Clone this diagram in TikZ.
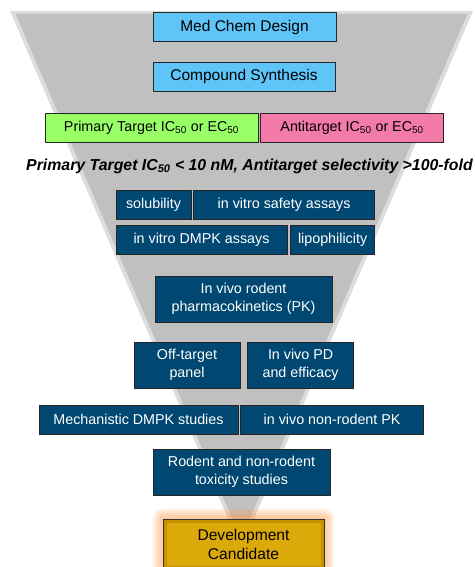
\documentclass[tikz,border=0pt]{standalone}
\usepackage{fontspec}
\setmainfont{Liberation Sans}
\usepackage{xcolor}
\usepackage{tikz}
\usetikzlibrary{positioning,calc}
\definecolor{FunGray}{HTML}{C0C0C0}
\definecolor{FunEdge}{HTML}{DCDCDC}
\definecolor{SkyBox}{HTML}{5FC4F8}
\definecolor{LimeBox}{HTML}{99FF66}
\definecolor{RoseBox}{HTML}{F47BA8}
\definecolor{NavyBox}{HTML}{004872}
\definecolor{GoldBox}{HTML}{DBA90A}
\definecolor{GoldRim}{HTML}{C49400}
\definecolor{GlowOrange}{HTML}{FF9C45}
\pgfdeclarelayer{back}
\pgfdeclarelayer{glow}
\pgfsetlayers{back,glow,main}

\begin{document}
\begin{tikzpicture}[x=1pt,y=-1pt,
  node distance=2pt,
  box/.style={draw=black!85,line width=0.6pt,inner sep=0pt,align=center,
              font=\fontsize{14.3}{18}\selectfont,minimum height=29pt},
  skybox/.style={box,fill=SkyBox,font=\fontsize{15.5}{18}\selectfont},
  navybox/.style={box,fill=NavyBox,text=white},
  tallbox/.style={navybox,minimum height=46pt},
  goldbox/.style={box,fill=GoldRim,draw=black!80,minimum height=50pt,
                  font=\fontsize{15.6}{19}\selectfont,
                  path picture={\fill[GoldBox]
                    ($(path picture bounding box.north west)+(3.5,3.5)$) rectangle
                    ($(path picture bounding box.south east)+(-3.5,-3.5)$);}}
]
\useasboundingbox (0,0) rectangle (474,567);
% funnel behind everything
\begin{pgfonlayer}{back}
\fill[FunEdge] (10,11) -- (473,11) -- (241,549) -- cycle;
\fill[FunGray] (15.6,14) -- (467.3,14) -- (241,539) -- cycle;
\end{pgfonlayer}

\node[skybox,minimum width=183pt] (design) at (244.5,27) {Med Chem Design};
\node[skybox,minimum width=182pt] (synth) at (244,76.5) {Compound Synthesis};
\node[box,fill=LimeBox,minimum width=213pt] (primary) at (151.5,127.5)
  {Primary Target IC\textsubscript{50} or EC\textsubscript{50}};
\node[box,fill=RoseBox,minimum width=183pt,right=of primary] (anti)
  {Antitarget IC\textsubscript{50} or EC\textsubscript{50}};
\node[font=\fontsize{15.85}{18}\selectfont\bfseries\itshape] (criteria) at (249.5,166)
  {Primary Target IC\textsubscript{50} < 10 nM, Antitarget selectivity >100-fold};

\node[navybox,minimum width=75pt] (solub) at (153.5,204.5) {solubility};
\node[navybox,minimum width=181pt,right=of solub] (safety) {in vitro safety assays};
\node[navybox,minimum width=171pt] (dmpk) at (201.5,239.5) {in vitro DMPK assays};
\node[navybox,minimum width=84pt,right=3pt of dmpk] (lipo) {lipophilicity};
\node[tallbox,minimum width=177pt] (rodpk) at (243.5,299)
  {In vivo rodent\\pharmacokinetics (PK)};
\node[tallbox,minimum width=106pt] (offtgt) at (187,365) {Off-target\\panel};
\node[tallbox,minimum width=106pt,right=7pt of offtgt] (invpd) {In vivo PD\\and efficacy};
\node[navybox,minimum width=199pt] (mech) at (138.5,419.5) {Mechanistic DMPK studies};
\node[navybox,minimum width=183pt,right=of mech] (nonrod) {in vivo non-rodent PK};
\node[tallbox,minimum width=177pt] (tox) at (241.5,472)
  {Rodent and non-rodent\\toxicity studies};
\node[goldbox,minimum width=161pt] (cand) at (243.5,544) {Development\\Candidate};

% orange glow round the candidate
\begin{pgfonlayer}{glow}
\foreach \g in {10,8,...,2}
  \fill[GlowOrange,opacity=0.13,rounded corners=\g pt]
    ($(cand.north west)+(-\g,-\g)$) rectangle ($(cand.south east)+(\g,\g)$);
\end{pgfonlayer}
\end{tikzpicture}
\end{document}
